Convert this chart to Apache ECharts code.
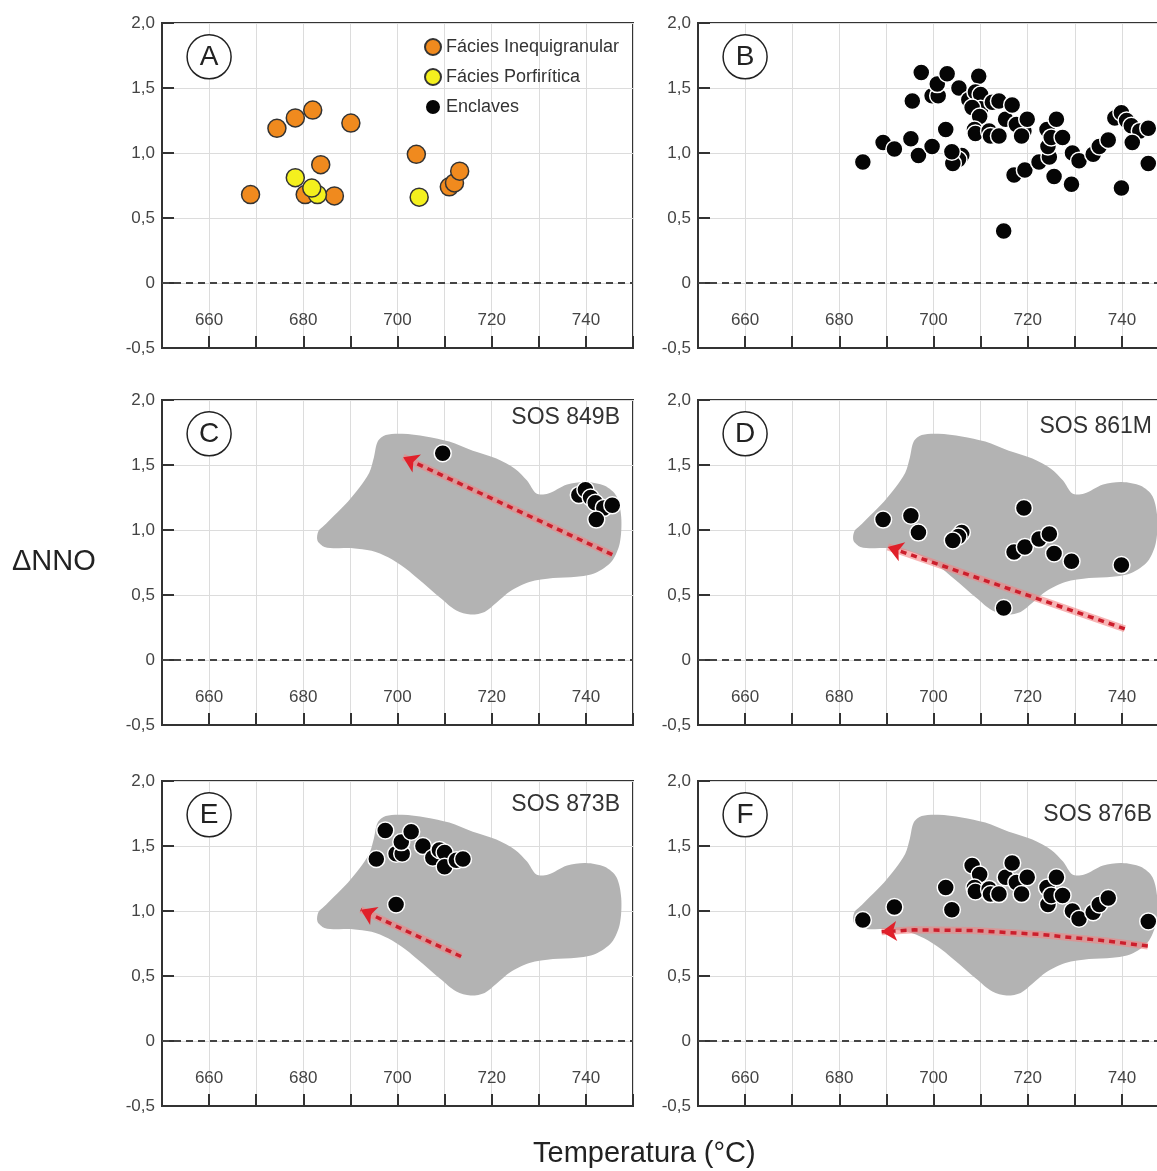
<!DOCTYPE html>
<html>
<head>
<meta charset="utf-8">
<script src="https://cdn.jsdelivr.net/npm/echarts@6/dist/echarts.min.js"></script>
<style>
  html, body { margin: 0; padding: 0; background: #fff; }
  #main { width: 1157px; height: 1171px; }
</style>
</head>
<body>
<div id="main"></div>
<script>
// temperatura (°C) / ΔNNO
var xTickLabels = [660, 680, 700, 720, 740];
var panelLetters = ['A', 'B', 'C', 'D', 'E', 'F'];
var sampleNames = ['SOS 849B', 'SOS 861M', 'SOS 873B', 'SOS 876B'];

var inequigranular = [
    [668.8, 0.68], [674.4, 1.19], [678.3, 1.27], [682.0, 1.33], [690.1, 1.23],
    [683.7, 0.91], [680.4, 0.68], [686.6, 0.67], [704.0, 0.99], [711.0, 0.74],
    [712.1, 0.77], [713.2, 0.86]
];
var porfiritica = [
    [683.0, 0.68], [678.3, 0.81], [681.8, 0.73], [704.6, 0.66]
];

// enclaves por amostra (B = todas)
var sos849B = [
    [709.6, 1.59], [738.5, 1.27], [739.9, 1.31], [741.0, 1.25], [742.0, 1.21],
    [743.8, 1.17], [745.6, 1.19], [742.2, 1.08]
];
var sos861M = [
    [689.3, 1.08], [695.2, 1.11], [696.8, 0.98], [706.0, 0.98], [705.3, 0.95],
    [704.1, 0.92], [714.9, 0.40], [717.1, 0.83], [719.4, 0.87], [719.2, 1.17],
    [722.4, 0.93], [724.6, 0.97], [725.6, 0.82], [729.3, 0.76], [739.9, 0.73]
];
var sos873B = [
    [697.4, 1.62], [695.5, 1.40], [699.7, 1.44], [701.0, 1.44], [700.8, 1.53],
    [702.9, 1.61], [705.4, 1.50], [707.5, 1.41], [708.9, 1.47], [710.0, 1.45],
    [710.0, 1.34], [712.5, 1.39], [713.9, 1.40], [699.7, 1.05]
];
var sos876B = [
    [685.0, 0.93], [691.7, 1.03], [702.6, 1.18], [703.9, 1.01], [708.2, 1.35],
    [709.8, 1.28], [708.7, 1.18], [708.9, 1.15], [711.8, 1.17], [712.1, 1.13],
    [713.9, 1.13], [715.3, 1.26], [716.7, 1.37], [717.6, 1.22], [718.7, 1.13],
    [719.9, 1.26], [724.1, 1.18], [724.3, 1.05], [725.0, 1.12], [726.1, 1.26],
    [727.4, 1.12], [729.5, 1.00], [730.9, 0.94], [733.9, 0.99], [735.2, 1.05],
    [737.1, 1.10], [745.6, 0.92]
];

// campo cinza dos enclaves (contorno)
var blobT = [683.2, 683.0, 684.5, 687.0, 690.5, 694.5, 698.0, 701.5, 705.5, 709.0,
    712.5, 715.5, 718.5, 721.0, 724.0, 728.0, 733.0, 738.0, 742.0, 745.5,
    747.2, 747.5, 746.5, 744.0, 740.0, 736.0, 732.0, 729.5, 727.5, 725.0,
    721.0, 716.0, 711.0, 706.0, 701.0, 697.5, 695.8, 695.0, 694.0, 692.0,
    689.5, 686.5, 684.3];
var blobNNO = [0.99, 0.92, 0.87, 0.86, 0.86, 0.84, 0.79, 0.71, 0.59, 0.48,
    0.38, 0.35, 0.37, 0.44, 0.53, 0.60, 0.63, 0.64, 0.67, 0.76,
    0.90, 1.10, 1.26, 1.34, 1.37, 1.35, 1.28, 1.28, 1.38, 1.47,
    1.55, 1.61, 1.68, 1.72, 1.74, 1.73, 1.68, 1.56, 1.44, 1.33,
    1.22, 1.11, 1.03];

// setas vermelhas (cauda -> ponta)
var arrow849B = [[745.6, 0.81], [701.2, 1.56]];
var arrow861M = [[740.6, 0.24], [690.3, 0.87]];
var arrow873B = [[713.5, 0.65], [692.2, 1.01]];
var arrow876B = [[745.5, 0.73], [736.7, 0.77], [722.5, 0.82], [708.4, 0.85], [696.0, 0.855], [689.0, 0.84]];

var myChart = echarts.init(document.getElementById('main'));

var gridPos = [
    {left: 162, top: 23}, {left: 698, top: 23},
    {left: 162, top: 400}, {left: 698, top: 400},
    {left: 162, top: 781}, {left: 698, top: 781}
];

var grids = [], xAxes = [], yAxes = [], series = [];

function fmtY(v) {
    if (v === 0) return '0';
    return v.toFixed(1).replace('.', ',');
}

for (var i = 0; i < 6; i++) {
    grids.push({
        left: gridPos[i].left, top: gridPos[i].top, width: 471, height: 325,
        outerBoundsMode: 'none', containLabel: false,
        show: true, borderColor: '#333', borderWidth: 2
    });
    xAxes.push({
        gridIndex: i, type: 'value', min: 650, max: 750, interval: 10,
        axisLine: {show: true, onZero: false, lineStyle: {color: '#333', width: 2}},
        axisTick: {show: true, inside: true, length: 12, lineStyle: {color: '#333', width: 2}},
        axisLabel: {
            inside: true, margin: 19, fontSize: 17, color: '#444',
            formatter: function (v) { return xTickLabels.indexOf(v) >= 0 ? String(v) : ''; }
        },
        splitLine: {show: true, lineStyle: {color: '#dcdcdc', width: 1}}
    });
    yAxes.push({
        gridIndex: i, type: 'value', min: -0.5, max: 2.0, interval: 0.5,
        axisLine: {show: true, onZero: false, lineStyle: {color: '#333', width: 2}},
        axisTick: {show: true, inside: true, length: 12, lineStyle: {color: '#333', width: 2}},
        axisLabel: {margin: 7, fontSize: 17, color: '#444', formatter: fmtY},
        splitLine: {show: true, lineStyle: {color: '#dcdcdc', width: 1}}
    });
    // letra do painel + linha tracejada em 0
    series.push({
        type: 'scatter', xAxisIndex: i, yAxisIndex: i, silent: true, z: 6,
        symbolSize: 44,
        itemStyle: {color: '#fff', borderColor: '#222', borderWidth: 1.5, opacity: 1},
        label: {show: true, position: 'inside', formatter: panelLetters[i], fontSize: 28, color: '#222'},
        data: [[660, 1.74]],
        markLine: {
            silent: true, symbol: 'none', label: {show: false},
            lineStyle: {color: '#444', width: 2, type: [7, 5]},
            data: [{yAxis: 0}]
        }
    });
}

function blobItem(params, api) {
    if (params.dataIndex !== 0) return null;
    var pts = [];
    for (var k = 0; k < blobT.length; k++) {
        pts.push(api.coord([blobT[k], blobNNO[k]]));
    }
    return {type: 'polygon', shape: {points: pts, smooth: 0.3}, style: {fill: '#b3b3b3'}};
}

var blobData = blobT.map(function (t, k) { return [t, blobNNO[k]]; });

function enclaveSeries(name, idx, data) {
    return {
        name: name, type: 'scatter', xAxisIndex: idx, yAxisIndex: idx, z: 5,
        symbolSize: 17,
        itemStyle: {color: '#050505', borderColor: '#fff', borderWidth: 1.5, opacity: 1},
        data: data
    };
}

// painel A
series.push({
    name: 'Fácies Inequigranular', type: 'scatter', xAxisIndex: 0, yAxisIndex: 0, z: 4,
    symbolSize: 18,
    itemStyle: {color: '#f08a1e', borderColor: '#333', borderWidth: 1.5, opacity: 1},
    data: inequigranular
});
series.push({
    name: 'Fácies Porfirítica', type: 'scatter', xAxisIndex: 0, yAxisIndex: 0, z: 5,
    symbolSize: 18,
    itemStyle: {color: '#f4f01e', borderColor: '#333', borderWidth: 1.5, opacity: 1},
    data: porfiritica
});

// painel B: todos os enclaves
series.push(enclaveSeries('Enclaves', 1, sos849B.concat(sos861M, sos873B, sos876B)));

var samples = [sos849B, sos861M, sos873B, sos876B];
var arrows = [arrow849B, arrow861M, arrow873B, arrow876B];
var arrowLine = {color: '#cc1e2c', width: 3.5, type: [6, 5], opacity: 1};
for (var s = 0; s < 4; s++) {
    var idx = s + 2;
    var a = arrows[s];
    series.push({
        type: 'custom', xAxisIndex: idx, yAxisIndex: idx, silent: true, z: 2, clip: true,
        renderItem: blobItem, data: blobData
    });
    // halo rosa
    series.push({
        type: 'lines', coordinateSystem: 'cartesian2d', xAxisIndex: idx, yAxisIndex: idx,
        polyline: true, silent: true, z: 3, symbol: 'none',
        lineStyle: {color: 'rgba(242,130,130,0.6)', width: 7, type: 'solid', opacity: 1},
        data: [{coords: a}]
    });
    // tracejado
    series.push({
        type: 'lines', coordinateSystem: 'cartesian2d', xAxisIndex: idx, yAxisIndex: idx,
        polyline: true, silent: true, z: 3, symbol: 'none',
        lineStyle: arrowLine,
        data: [{coords: a}]
    });
    // ponta da seta no ultimo segmento
    series.push({
        type: 'lines', coordinateSystem: 'cartesian2d', xAxisIndex: idx, yAxisIndex: idx,
        silent: true, z: 3, symbol: ['none', 'arrow'], symbolSize: [12, 15],
        lineStyle: {color: '#e0202a', width: 0, opacity: 1},
        data: [{coords: [a[a.length - 2], a[a.length - 1]]}]
    });
    series.push(enclaveSeries(sampleNames[s], idx, samples[s]));
}

var titleStyle = {fontSize: 23, fontWeight: 'normal', color: '#333'};
var option = {
    animation: false,
    backgroundColor: '#fff',
    textStyle: {fontFamily: 'Liberation Sans, Arial, sans-serif'},
    title: [
        {text: 'SOS 849B', right: 537, top: 406, padding: 0, textStyle: titleStyle},
        {text: 'SOS 861M', right: 5, top: 415, padding: 0, textStyle: titleStyle},
        {text: 'SOS 873B', right: 537, top: 793, padding: 0, textStyle: titleStyle},
        {text: 'SOS 876B', right: 5, top: 803, padding: 0, textStyle: titleStyle},
        {text: 'ΔNNO', left: 12, top: 547, padding: 0, textStyle: {fontSize: 29, fontWeight: 'normal', color: '#222'}},
        {text: 'Temperatura (°C)', left: 533, top: 1139, padding: 0, textStyle: {fontSize: 29, fontWeight: 'normal', color: '#222'}}
    ],
    legend: {
        data: ['Fácies Inequigranular', 'Fácies Porfirítica', 'Enclaves'],
        orient: 'vertical', left: 424, top: 38, padding: 0,
        itemGap: 12, itemWidth: 16, itemHeight: 16, icon: 'circle',
        textStyle: {fontSize: 18, color: '#333'}
    },
    grid: grids,
    xAxis: xAxes,
    yAxis: yAxes,
    series: series
};

myChart.setOption(option);
</script>
</body>
</html>
